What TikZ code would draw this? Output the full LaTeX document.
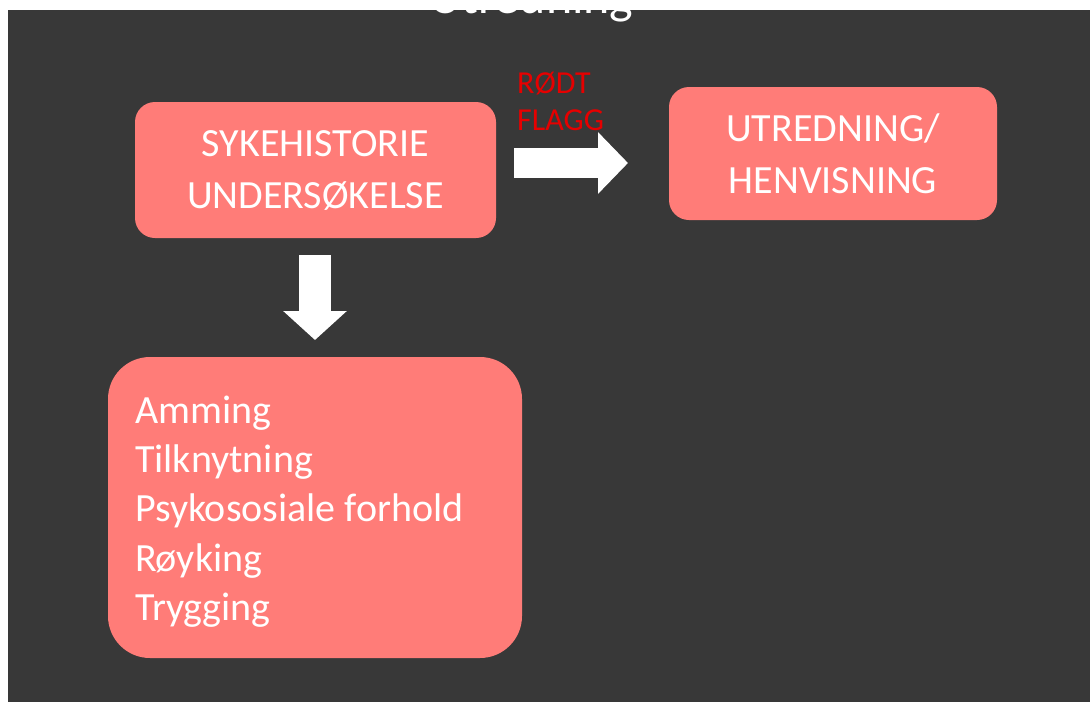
\documentclass[tikz,border=0pt]{standalone}
\usepackage{fontspec}
\setmainfont{Carlito}
\usetikzlibrary{arrows.meta}
\definecolor{slideGrey}{RGB}{56,56,56}
\definecolor{boxSalmon}{RGB}{255,124,120}
\definecolor{flagRed}{RGB}{230,0,0}
\begin{document}
\begin{tikzpicture}
[x=1pt,y=-1pt,
  boxDecorate/.style={fill=boxSalmon,text=white,inner sep=0pt,
    font=\fontsize{40}{52}\selectfont},
  arrowDecorate/.style={white,line width=30pt,-{Triangle[length=30pt,width=60pt]}}]
\useasboundingbox (0,0) rectangle (1090,702);
\fill[slideGrey] (8,10) rectangle (1090,702);
%% title, cut by the top edge of the slide
\begin{scope}
  \clip (8,10) rectangle (1090,702);
  \node[anchor=base west,inner sep=0pt,text=white,font=\fontsize{50}{60}\selectfont]
    (title) at (429,13) {Utredning};
\end{scope}
%% boxes
\node[boxDecorate,rounded corners=20pt,align=center,minimum width=361,minimum height=136]
  (history) at (315.5,170) {SYKEHISTORIE\\UNDERSØKELSE};
\node[boxDecorate,rounded corners=20pt,align=center,minimum width=328,minimum height=133]
  (referral) at (833,153.5) {UTREDNING/\\HENVISNING};
\node[boxDecorate,rounded corners=42pt,align=left,text width=360,inner xsep=27pt,
  minimum height=301,font=\fontsize{40}{49.3}\selectfont]
  (topics) at (315,507.5) {\spaceskip=0pt\relax
  Amming\\Tilknytning\\Psykososiale forhold\\Røyking\\Trygging\par\vspace{-8pt}};
%% arrows
\coordinate (flagStart) at (514,163);
\coordinate (flagEnd) at (628,163);
\coordinate (downStart) at (315,255);
\coordinate (downEnd) at (315,340);
\draw[arrowDecorate] (flagStart) -- (flagEnd);
\draw[arrowDecorate,line width=32pt,-{Triangle[length=29pt,width=62pt]}] (downStart) -- (downEnd);
%% red flag label
\node[anchor=base west,inner sep=0pt,align=left,text=flagRed,
  font=\fontsize{32}{37}\selectfont] (flag) at (517,130) {RØDT\\FLAGG};
\end{tikzpicture}
\end{document}
